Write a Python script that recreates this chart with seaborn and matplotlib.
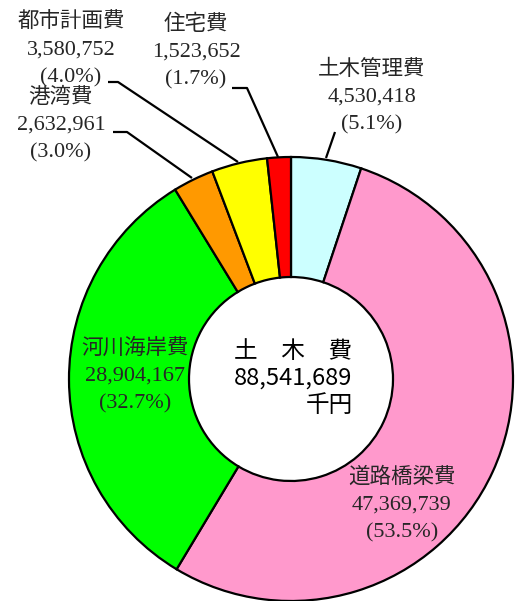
import matplotlib
matplotlib.use("Agg")
import matplotlib.pyplot as plt
import seaborn as sns

# ---- data ----
categories = ["土木管理費", "道路橋梁費", "河川海岸費", "港湾費", "都市計画費", "住宅費"]
values = [4530418, 47369739, 28904167, 2632961, 3580752, 1523652]  # 千円
percents = ["5.1", "53.5", "32.7", "3.0", "4.0", "1.7"]
colors = ["#CCFFFF", "#FF99CC", "#00FF00", "#FF9900", "#FFFF00", "#FF0000"]
total_label = "88,541,689"
center_title = "土　木　費"
unit = "千円"

sns.set_theme(style="white")
plt.rcParams["font.family"] = ["Liberation Serif", "Noto Sans CJK JP", "DejaVu Sans"]

W, H = 515, 601
fig = plt.figure(figsize=(W / 100, H / 100), dpi=100)
ax = fig.add_axes([0, 0, 1, 1])

def Y(y):
    return H - y

cx, cy, R, r_in = 291, 379, 222, 102
ax.pie(values, colors=colors, startangle=90, counterclock=False,
       center=(cx, Y(cy)), radius=R, frame=True,
       wedgeprops=dict(width=R - r_in, edgecolor="black", linewidth=1.6))
ax.set_xlim(0, W)
ax.set_ylim(0, H)
ax.set_aspect("auto")
ax.axis("off")

label_fam = ["Liberation Serif", "Noto Sans CJK JP"]
txt_color = "#262626"

# label anchor positions (x center, first line y) in pixels
label_pos = {
    "土木管理費": (372, 69),
    "道路橋梁費": (402, 477),
    "河川海岸費": (135, 348),
    "港湾費": (61, 97),
    "都市計画費": (71, 22),
    "住宅費": (196, 24),
}
step = 28
for cat, v, p in zip(categories, values, percents):
    x, y = label_pos[cat]
    lines = [cat, f"{v:,}", f"({p}%)"]
    for i, s in enumerate(lines):
        if i == 0:
            ax.text(x, Y(y), s, ha="center", va="center", fontsize=15.5,
                    color=txt_color, family=["Noto Sans CJK JP"])
        else:
            ax.text(x, Y(y + i * step), s, ha="center", va="center",
                    fontsize=16, color=txt_color, family=label_fam)

# leader lines
leaders = [
    [(108, 82), (118, 82), (238, 162)],
    [(232, 88), (247, 88), (278, 157)],
    [(113, 132), (127, 132), (192, 178)],
    [(335, 132), (326, 158)],
]
for pts in leaders:
    ax.plot([p[0] for p in pts], [Y(p[1]) for p in pts], color="black", lw=1.6,
            solid_capstyle="butt")

# center text
cfam = ["Noto Sans CJK JP"]
ax.text(293, Y(352), center_title, ha="center", va="center", fontsize=17,
        family=cfam, color="black")
ax.text(293, Y(378), total_label, ha="center", va="center", fontsize=17,
        family=cfam, color="black")
ax.text(353, Y(406), unit, ha="right", va="center", fontsize=17,
        family=cfam, color="black")

fig.savefig("out.png", dpi=100)
